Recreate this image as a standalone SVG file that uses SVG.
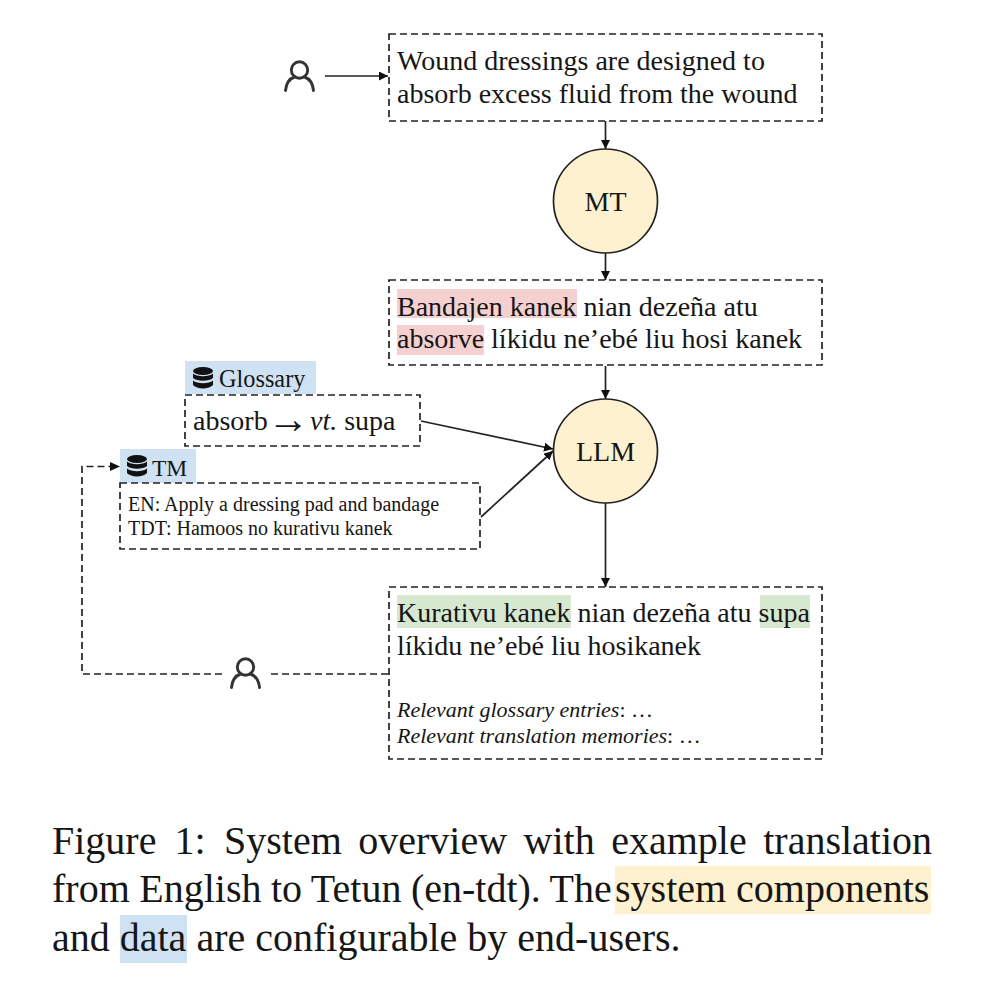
<svg xmlns="http://www.w3.org/2000/svg" width="995" height="1000" viewBox="0 0 995 1000">
<style>
text{font-family:"Liberation Serif","Times New Roman",serif;fill:#161616}
.m{font-size:28px}.s{font-size:20px}.i{font-size:22px;font-style:italic}.c{font-size:40px}
.box{fill:none;stroke:#222;stroke-width:1.7;stroke-dasharray:7 4}
.circ{fill:#fdf1cf;stroke:#222;stroke-width:1.7}
.con{fill:none;stroke:#222;stroke-width:1.7;marker-end:url(#a)}
.dash{fill:none;stroke:#222;stroke-width:1.7;stroke-dasharray:7 4}
.user{fill:none;stroke:#333;stroke-width:2.9;stroke-linecap:round}
.db{fill:#111}
</style>
<defs>
<marker id="a" markerUnits="userSpaceOnUse" markerWidth="10" markerHeight="9" refX="9" refY="4.5" orient="auto"><path d="M0 0L9 4.5L0 9z" fill="#111"/></marker>
<g id="u"><circle cx="0" cy="-7" r="8.2" class="user"/><path d="M-14 13.500C-13 4 -8 1 -5 0M14 13.500C13 4 8 1 5 0" class="user"/></g>
<g id="d"><ellipse cx="0" cy="-7" rx="10" ry="4" class="db"/><path d="M-10 -4.500C-6 -1 6 -1 10 -4.500V0C6 3.500 -6 3.500 -10 0zM-10 2.500C-6 6 6 6 10 2.500V7C6 11.500 -6 11.500 -10 7z" class="db"/></g>
</defs>
<g id="connectors">
<path class="con" d="M325 76H388"/>
<path class="con" d="M605.500 121V149"/>
<path class="con" d="M605.500 252V280"/>
<path class="con" d="M605.500 366V399"/>
<path class="con" d="M421 421L553 449"/>
<path class="con" d="M481 517L553 451"/>
<path class="con" d="M605.500 503V587"/>
<path class="dash" d="M388 674H271M222 674H82V466.500H110"/>
<path d="M110 462L120 466.500L110 471z" fill="#111"/>
</g>
<g id="n-input">
<rect class="box" x="389" y="34" width="433" height="87"/>
<text class="m" x="397" y="70">Wound dressings are designed to</text>
<text class="m" x="397" y="103">absorb excess fluid from the wound</text>
</g>
<use id="n-user-top" href="#u" x="299.500" y="77"/>
<g id="n-mt"><circle class="circ" cx="605.500" cy="201" r="52"/><text class="m" x="605.500" y="211" text-anchor="middle">MT</text></g>
<g id="n-draft">
<rect x="397" y="289" width="180" height="29" fill="#f5d0d0"/>
<rect x="397" y="325" width="87" height="30" fill="#f5d0d0"/>
<rect class="box" x="389" y="280" width="433" height="85"/>
<text class="m" x="397" y="316">Bandajen kanek nian dezeña atu</text>
<text class="m" x="397" y="348">absorve líkidu ne’ebé liu hosi kanek</text>
</g>
<g id="n-llm"><circle class="circ" cx="605.500" cy="451" r="52"/><text class="m" x="605.500" y="461" text-anchor="middle">LLM</text></g>
<g id="n-glossary">
<rect x="185" y="361" width="131" height="33" fill="#cfe2f3"/>
<use href="#d" x="203" y="378"/>
<text x="219" y="387" font-size="24.300">Glossary</text>
<rect class="box" x="185" y="395" width="235" height="51"/>
<text class="m" x="193" y="430">absorb <tspan x="267" dy="3" font-size="42">→</tspan><tspan x="310" dy="-3" font-style="italic">vt.</tspan> supa</text>
</g>
<g id="n-tm">
<rect x="120" y="449" width="76" height="34" fill="#cfe2f3"/>
<use href="#d" x="137" y="466"/>
<text x="152" y="476" font-size="23.500">TM</text>
<rect class="box" x="120" y="483" width="360" height="66"/>
<text class="s" x="128" y="511">EN: Apply a dressing pad and bandage</text>
<text class="s" x="128" y="535">TDT: Hamoos no kurativu kanek</text>
</g>
<use id="n-user-bottom" href="#u" x="245.500" y="674"/>
<g id="n-output">
<rect x="397" y="595" width="174" height="33" fill="#d6e8d0"/>
<rect x="760" y="595" width="50" height="33" fill="#d6e8d0"/>
<rect class="box" x="389" y="587" width="433" height="172"/>
<text class="m" x="397" y="622">Kurativu kanek nian dezeña atu supa</text>
<text class="m" x="397" y="655">líkidu ne’ebé liu hosikanek</text>
<text class="i" x="397" y="717">Relevant glossary entries<tspan font-style="normal">: …</tspan></text>
<text class="i" x="397" y="743">Relevant translation memories<tspan font-style="normal">: …</tspan></text>
</g>
<g id="caption">
<rect x="615" y="866" width="316" height="48" fill="#fdf1cf"/>
<rect x="120" y="915" width="67" height="48" fill="#cfe2f3"/>
<text class="c" x="52" y="854" word-spacing="6.500"><tspan word-spacing="8">Figure 1:</tspan><tspan x="224">System overview with example translation</tspan></text>
<text class="c" x="52" y="902" word-spacing="-0.500">from English to Tetun (en-tdt). The<tspan x="615" word-spacing="0">system components</tspan></text>
<text class="c" x="52" y="951">and data are configurable by end-users.</text>
</g>
</svg>
